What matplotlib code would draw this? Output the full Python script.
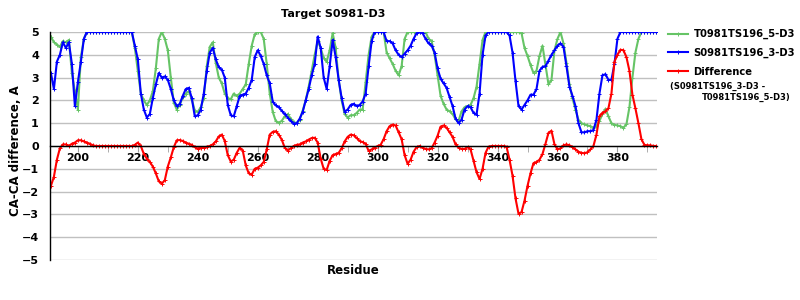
import numpy as np
import matplotlib
matplotlib.use("Agg")
import matplotlib.pyplot as plt
from matplotlib.ticker import MultipleLocator

# residue numbers 191..393
residues = np.arange(191, 394)

# S0981TS196_3-D3 (blue)
model_3 = [
    3.2, 2.5, 3.7, 4.0, 4.55, 4.3, 4.55, 3.6, 1.75, 2.8,
    3.7, 4.7, 5, 5, 5, 5, 5, 5, 5, 5,
    5, 5, 5, 5, 5, 5, 5, 5, 4.4, 3.8,
    2.3, 1.6, 1.25, 1.4, 2.1, 2.7, 3.2, 3.0, 3.05, 2.9,
    2.5, 2.0, 1.75, 1.85, 2.2, 2.5, 2.55, 2.1, 1.3, 1.35,
    1.6, 2.3, 3.3, 4.1, 4.3, 3.8, 3.45, 3.35, 3.0, 1.8,
    1.35, 1.3, 1.75, 2.2, 2.25, 2.3, 2.55, 2.9, 3.9, 4.2,
    3.95, 3.6, 3.1, 2.75, 1.95, 1.78, 1.7, 1.55, 1.4, 1.25,
    1.1, 0.98, 1.0, 1.2, 1.5, 2.0, 2.5, 3.1, 3.6, 4.8,
    4.3, 3.0, 2.5, 3.5, 4.65, 3.9, 2.9, 2.1, 1.5, 1.6,
    1.8, 1.85, 1.75, 1.8, 1.95, 2.3, 3.5, 4.6, 5, 5,
    5, 5, 4.6, 4.6, 4.5, 4.2, 4.0, 3.9, 4.05, 4.2,
    4.4, 4.7, 4.95, 5, 4.95, 4.7, 4.5, 4.4, 4.1, 3.4,
    2.95, 2.75, 2.55, 2.15, 1.75, 1.2, 1.0, 1.16, 1.6, 1.75,
    1.7, 1.45, 1.38, 2.3, 4.0, 4.85, 5, 5, 5, 5,
    5, 5, 5, 4.85, 4.1, 2.85, 1.75, 1.6, 1.8, 2.0,
    2.25, 2.25, 2.5, 3.3, 3.47, 3.5, 3.75, 4.0, 4.2, 4.4,
    4.5, 4.35, 3.5, 2.6, 2.2, 1.75, 1.0, 0.6, 0.6, 0.65,
    0.65, 0.7, 1.15, 2.3, 3.1, 3.15, 2.9, 2.9, 3.6, 4.7,
    5, 5, 5, 5, 5, 5, 5, 5, 5, 5,
    5, 5, 5,
]

# T0981TS196_5-D3 (green)
model_5 = [
    4.8, 4.55, 4.45, 4.35, 4.6, 4.55, 4.65, 3.2, 2.4, 1.6,
    3.9, 4.7, 5, 5, 5, 5, 5, 5, 5, 5,
    5, 5, 5, 5, 5, 5, 5, 5, 4.3, 3.3,
    2.3, 2.0, 1.8, 2.0, 2.4, 3.4, 4.7, 5.0, 4.7, 4.2,
    3.0, 1.9, 1.6, 1.8, 2.15, 2.3, 2.4, 2.05, 1.55, 1.5,
    1.7, 2.1, 3.5, 4.35, 4.55, 3.65, 3.0, 2.75, 2.3, 2.1,
    2.05, 2.3, 2.2, 2.3, 2.5, 2.7, 3.6, 4.4, 4.9, 5.0,
    5.0, 4.7, 3.6, 2.3, 1.5, 1.1, 1.02, 1.1, 1.3, 1.4,
    1.2, 1.05, 1.0, 1.15, 1.55, 2.0, 2.6, 3.3, 4.0, 4.6,
    4.3, 3.85, 3.7, 4.2, 4.95, 4.3, 2.9, 2.0, 1.4, 1.25,
    1.35, 1.35, 1.45, 1.6, 1.6, 2.8, 4.0, 4.8, 5, 5,
    5, 5, 4.1, 3.85, 3.6, 3.3, 3.1, 3.5, 4.7, 5,
    5, 5, 5, 5, 5, 5, 4.7, 4.6, 4.0, 3.1,
    2.2, 1.85, 1.6, 1.52, 1.4, 1.17, 1.1, 1.52, 1.7, 1.75,
    1.8, 2.1, 2.6, 3.6, 4.65, 5, 5, 5, 5, 5,
    5, 5, 5, 5, 5, 5, 5, 4.95, 4.3, 3.95,
    3.55, 3.2, 3.3, 3.95, 4.4, 3.55, 2.7, 2.9, 4.2, 4.7,
    5.0, 4.5, 3.65, 2.7, 2.1, 1.6, 1.15, 1.0, 0.95, 0.9,
    0.87, 0.8, 0.87, 1.1, 1.4, 1.63, 1.3, 1.0, 0.93, 0.9,
    0.87, 0.8, 0.95, 1.7, 3.0, 4.1, 4.7, 5, 5, 5,
    5, 5, 5,
]

# Difference (S0981TS196_3-D3 - T0981TS196_5-D3), red
difference = [
    -1.75, -1.35, -0.6, -0.1, 0.07, 0.07, 0.0, 0.1, 0.15, 0.25,
    0.25, 0.2, 0.15, 0.1, 0.03, 0, 0, 0, 0, 0,
    0, 0, 0, 0, 0, 0, 0, 0, 0.05, 0.15,
    0.0, -0.35, -0.55, -0.7, -0.9, -1.2, -1.55, -1.65, -1.5, -0.9,
    -0.5, -0.05, 0.25, 0.26, 0.22, 0.15, 0.1, 0.05, -0.05, -0.12,
    -0.07, -0.07, -0.03, 0.0, 0.07, 0.2, 0.42, 0.5, 0.22, -0.4,
    -0.68, -0.6, -0.3, -0.07, -0.2, -0.85, -1.2, -1.25, -1.0, -0.95,
    -0.85, -0.7, -0.15, 0.5, 0.62, 0.65, 0.5, 0.28, -0.07, -0.2,
    -0.1, 0.0, 0.05, 0.07, 0.15, 0.2, 0.28, 0.35, 0.36, 0.15,
    -0.55, -1.0, -1.05, -0.65, -0.4, -0.35, -0.3, -0.1, 0.2, 0.4,
    0.5, 0.47, 0.35, 0.22, 0.17, 0.1, -0.22, -0.15, -0.07, 0.0,
    0.05, 0.3, 0.65, 0.87, 0.94, 0.9, 0.6, 0.3, -0.4, -0.78,
    -0.6, -0.25, -0.05, 0.0, -0.07, -0.13, -0.15, -0.1, 0.15, 0.45,
    0.85, 0.9, 0.8, 0.6, 0.4, 0.07, -0.07, -0.13, -0.13, -0.05,
    -0.15, -0.65, -1.15, -1.45, -1.0, -0.3, -0.03, 0, 0, 0,
    0, 0, -0.03, -0.6, -1.3, -2.3, -2.97, -2.9, -2.4, -1.75,
    -1.2, -0.75, -0.7, -0.6, -0.35, 0.1, 0.58, 0.67, 0.07, -0.15,
    -0.1, 0.03, 0.07, 0.03, -0.05, -0.15, -0.25, -0.3, -0.32, -0.27,
    -0.15, 0.0, 0.5, 1.3, 1.46, 1.52, 1.66, 2.3, 3.7, 4.0,
    4.22, 4.2, 3.9, 3.3, 2.25, 1.65, 1.0, 0.3, 0.05, 0.03,
    0.03, 0.0, 0.0,
]

fig = plt.figure(figsize=(8, 3), dpi=100)
ax = fig.add_axes([50 / 800, 1 - 260 / 300, 607 / 800, 228 / 300])

style = dict(lw=1.5, marker='+', ms=2.5, mew=0.7)
l5, = ax.plot(residues, model_5, color='#66c466', **style)
l3, = ax.plot(residues, model_3, color='#0000ff', **style)
ld, = ax.plot(residues, difference, color='#ff0000', **style)

ax.set_xlim(190.7, 393.2)
ax.set_ylim(-5, 5)
ax.set_yticks(range(-5, 6))
ax.yaxis.grid(True, color='#c0c0c0', lw=1)
ax.set_axisbelow(True)

ax.spines['top'].set_visible(False)
ax.spines['right'].set_visible(False)
ax.spines['bottom'].set_position(('data', 0))
ax.spines['left'].set_linewidth(1)
ax.spines['bottom'].set_linewidth(1)

ax.xaxis.set_major_locator(MultipleLocator(20))
ax.xaxis.set_minor_locator(MultipleLocator(10))
ax.tick_params(axis='x', which='both', direction='out', length=4,
               color='#a0a0a0', labelsize=8, pad=1)
ax.tick_params(axis='y', length=0, labelsize=8, pad=8)
for t in ax.get_xticklabels() + ax.get_yticklabels():
    t.set_fontweight('bold')

fig.text(333 / 800, 1 - 14 / 300, 'Target S0981-D3', ha='center', va='center',
         fontsize=8, fontweight='bold')
fig.text(16 / 800, 1 - 151 / 300, 'CA-CA difference, A', rotation=90,
         ha='center', va='center', fontsize=8.5, fontweight='bold')
fig.text(353 / 800, 1 - 270 / 300, 'Residue', ha='center', va='center',
         fontsize=8.5, fontweight='bold')

fig.legend([l5, l3, ld], ['T0981TS196_5-D3', 'S0981TS196_3-D3', 'Difference'],
           loc='upper left', bbox_to_anchor=(668 / 800, 1 - 29 / 300),
           frameon=False, handlelength=2.0, handletextpad=0.55,
           labelspacing=0.85, borderaxespad=0, borderpad=0,
           prop={'weight': 'bold', 'size': 7.2})
fig.text(670 / 800, 1 - 86 / 300, '(S0981TS196_3-D3 -', ha='left', va='center',
         fontsize=6, fontweight='bold')
fig.text(702 / 800, 1 - 97 / 300, 'T0981TS196_5-D3)', ha='left', va='center',
         fontsize=6, fontweight='bold')

fig.savefig('out.png', dpi=100)
